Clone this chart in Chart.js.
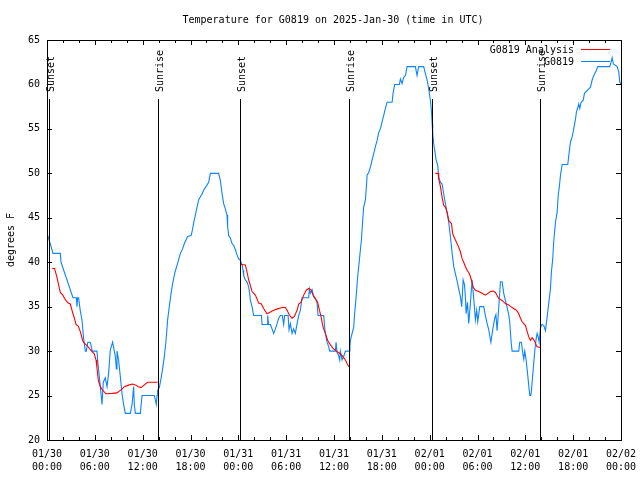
<!DOCTYPE html>
<html>
<head>
<meta charset="utf-8">
<title>Temperature for G0819</title>
<script src="https://cdn.jsdelivr.net/npm/chart.js@4.4.1/dist/chart.umd.min.js"></script>
<style>
  html, body { margin: 0; padding: 0; background: #fff; }
  #wrap { width: 640px; height: 480px; }
</style>
</head>
<body>
<div id="wrap"><canvas id="chart" width="640" height="480"></canvas></div>
<script>
// hours after 2025-01-30 00:00 UTC
const obsHours = [
  0.08, 0.16, 0.41, 0.75, 1.67, 1.76, 2.17, 2.51, 2.92, 3.26,
  3.68, 3.76, 3.84, 3.96, 4.18, 4.39, 4.59, 4.81, 4.93, 5.12,
  5.43, 5.68, 6.27, 6.35, 6.69, 6.90, 7.06, 7.31, 7.53, 7.73,
  7.94, 8.23, 8.44, 8.57, 8.70, 8.78, 8.98, 9.20, 9.41, 9.61,
  9.82, 10.45, 10.67, 10.87, 10.95, 11.08, 11.71, 11.92, 13.46, 13.59,
  13.71, 13.80, 13.88, 14.09, 14.30, 14.50, 14.72, 14.93, 15.13, 15.34,
  15.56, 15.76, 16.06, 16.39, 16.73, 17.01, 17.23, 17.64, 18.07, 18.19,
  18.39, 18.61, 18.82, 19.02, 19.45, 19.65, 20.08, 20.28, 20.49, 21.53,
  21.74, 21.96, 22.16, 22.37, 22.58, 22.66, 22.79, 23.00, 23.21, 23.41,
  23.63, 23.84, 24.04, 24.25, 24.47, 24.59, 24.67, 24.88, 25.09, 25.30,
  25.42, 25.51, 25.72, 25.92, 26.89, 26.98, 27.60, 27.68, 27.80, 28.02,
  28.23, 28.43, 28.65, 28.86, 29.06, 29.27, 29.52, 29.69, 29.81, 30.24,
  30.36, 30.53, 30.74, 30.94, 31.15, 31.37, 31.57, 31.78, 31.99, 32.82,
  32.91, 33.04, 33.25, 33.45, 33.66, 33.88, 34.00, 34.71, 34.83, 34.92,
  35.13, 35.33, 35.46, 36.17, 36.26, 36.39, 36.55, 36.71, 36.80, 37.01,
  37.21, 37.43, 37.97, 38.00, 38.06, 38.27, 38.47, 38.59, 38.81, 38.97,
  39.10, 39.31, 39.44, 39.60, 39.72, 39.94, 40.06, 40.15, 40.35, 40.57,
  40.78, 40.98, 41.19, 41.41, 41.61, 41.82, 42.03, 42.23, 42.45, 42.66,
  43.29, 43.41, 43.61, 44.20, 44.33, 44.54, 44.74, 44.96, 45.17, 46.21,
  46.42, 46.62, 47.25, 47.47, 47.68, 47.88, 48.09, 48.22, 48.31, 48.38,
  48.51, 48.63, 48.81, 49.01, 49.13, 49.35, 49.56, 49.76, 49.97, 50.19,
  50.39, 50.60, 50.82, 51.02, 51.23, 51.44, 51.64, 51.86, 52.02, 52.20,
  52.36, 52.49, 52.57, 52.74, 52.90, 53.11, 53.32, 53.49, 53.61, 53.74,
  53.90, 54.03, 54.28, 54.78, 54.99, 55.21, 55.41, 55.68, 55.87, 56.16,
  56.31, 56.46, 56.67, 56.88, 57.09, 57.29, 57.50, 57.72, 57.92, 58.04,
  58.22, 58.34, 59.17, 59.30, 59.51, 59.64, 59.80, 59.93, 60.10, 60.30,
  60.43, 60.56, 60.68, 60.77, 60.90, 61.06, 61.21, 61.36, 61.48, 61.61,
  61.73, 61.90, 62.06, 62.31, 62.52, 62.65, 62.81, 62.94, 63.15, 63.27,
  63.44, 63.56, 63.78, 63.99, 64.12, 64.28, 64.41, 64.62, 65.32, 65.45,
  65.66, 65.87, 66.07, 66.29, 66.41, 66.70, 66.83, 67.00, 67.25, 67.42,
  67.96, 68.17, 68.38, 68.58, 68.92, 69.08, 70.59, 70.76, 70.89, 71.05,
  71.52, 71.72, 71.84, 72.00
];
const obsTemps = [
  43.0, 42.8, 42.1, 41.0, 41.0, 40.0, 38.9, 38.0, 36.9, 36.0,
  36.0, 35.0, 36.0, 36.0, 34.5, 33.5, 31.4, 30.0, 30.0, 31.0,
  31.0, 30.0, 30.0, 29.0, 26.0, 24.0, 26.5, 27.0, 26.0, 27.5,
  30.1, 31.0, 30.0, 29.4, 28.0, 30.0, 29.0, 27.1, 25.2, 24.0,
  23.0, 23.0, 24.0, 26.0, 24.0, 23.0, 23.0, 25.0, 25.0, 24.5,
  24.0, 25.0, 25.6, 25.9, 26.9, 28.0, 29.4, 31.2, 33.5, 35.0,
  36.5, 37.6, 38.9, 39.9, 41.0, 41.5, 42.1, 42.9, 43.0, 43.4,
  44.4, 45.3, 46.2, 47.0, 47.7, 48.1, 48.7, 49.0, 50.0, 50.0,
  49.2, 47.7, 46.6, 46.0, 45.3, 44.0, 43.0, 42.7, 42.1, 41.9,
  41.4, 40.8, 40.4, 40.2, 39.7, 39.1, 38.5, 38.0, 37.8, 37.2,
  36.5, 35.7, 35.0, 34.0, 34.0, 33.0, 33.0, 34.0, 33.0, 33.0,
  32.5, 32.0, 32.5, 33.1, 33.7, 34.0, 34.0, 33.0, 34.0, 34.0,
  32.4, 33.1, 32.0, 32.5, 32.0, 33.1, 34.0, 34.6, 36.0, 36.0,
  37.0, 36.5, 36.9, 36.1, 35.9, 35.4, 34.0, 34.0, 32.7, 32.0,
  31.0, 30.5, 30.0, 30.0, 31.0, 29.8, 29.6, 29.0, 30.0, 29.0,
  29.4, 30.0, 30.0, 30.5, 31.2, 32.0, 32.7, 34.2, 36.5, 38.4,
  39.5, 41.4, 42.5, 44.7, 46.2, 47.0, 48.5, 49.8, 50.1, 50.7,
  51.5, 52.2, 53.0, 53.7, 54.6, 55.0, 55.8, 56.5, 57.3, 58.0,
  58.0, 59.0, 60.0, 60.0, 60.6, 60.1, 60.8, 61.0, 62.0, 62.0,
  61.0, 62.0, 62.0, 61.2, 60.5, 59.5, 58.2, 57.1, 55.6, 54.5,
  53.3, 52.6, 51.5, 50.9, 49.6, 49.0, 48.8, 47.7, 46.6, 45.5,
  44.5, 42.9, 41.0, 39.5, 38.7, 37.9, 37.0, 36.1, 35.0, 38.0,
  37.5, 36.0, 34.2, 35.5, 33.1, 35.4, 38.0, 36.3, 35.0, 33.5,
  34.6, 33.3, 35.0, 35.0, 34.0, 33.1, 32.4, 31.0, 32.2, 33.7,
  34.1, 32.3, 35.0, 37.8, 37.8, 36.5, 35.7, 34.9, 34.1, 33.3,
  31.0, 30.0, 30.0, 31.0, 31.0, 30.0, 29.1, 30.0, 29.0, 27.3,
  26.1, 25.0, 25.0, 25.6, 27.0, 28.7, 30.3, 31.4, 32.0, 31.6,
  31.0, 32.6, 33.0, 32.9, 32.3, 33.2, 34.4, 35.4, 37.0, 38.9,
  40.4, 42.3, 44.5, 45.6, 47.5, 48.6, 49.8, 51.0, 51.0, 52.0,
  53.5, 54.1, 55.0, 56.1, 56.9, 57.8, 57.3, 58.0, 58.2, 59.0,
  59.5, 59.7, 60.5, 61.0, 61.6, 62.0, 62.0, 62.5, 63.0, 62.3,
  62.0, 61.4, 60.3, 60.0
];

// analysis, night-time only (three nights)
const ana1Hours = [0.66, 0.95, 1.25, 1.42, 1.67, 1.98, 2.36, 2.67, 2.92, 3.26,
  3.43, 3.64, 3.93, 4.18, 4.47, 4.68, 5.06, 5.31, 5.60, 5.93,
  6.15, 6.27, 6.44, 6.69, 6.98, 7.38, 8.19, 8.78, 9.07, 9.36,
  9.70, 10.33, 10.74, 11.08, 11.46, 11.79, 12.21, 12.62, 13.88];
const ana1Temps = [39.3, 39.3, 38.3, 37.6, 36.6, 36.3, 35.7, 35.4, 35.3, 34.2,
  33.7, 33.0, 32.8, 32.2, 31.2, 30.9, 30.6, 30.3, 30.0, 29.7,
  29.0, 28.1, 26.7, 26.0, 25.6, 25.2, 25.25, 25.3, 25.5, 25.7,
  26.0, 26.2, 26.3, 26.2, 26.0, 25.9, 26.2, 26.5, 26.5];
const ana2Hours = [24.34, 24.88, 25.09, 25.30, 25.51, 25.72, 26.14, 26.55, 26.89, 27.18,
  27.60, 28.02, 28.43, 28.93, 29.49, 29.90, 30.11, 30.44, 30.74, 31.03,
  31.37, 31.57, 31.87, 32.20, 32.53, 32.82, 33.12, 33.38, 33.66, 33.95,
  34.17, 34.38, 34.63, 34.92, 35.21, 35.55, 35.88, 36.17, 36.46, 36.80,
  37.14, 37.43, 37.64, 37.84, 37.95];
const ana2Temps = [39.75, 39.7, 38.9, 38.0, 37.4, 36.7, 36.3, 35.4, 35.3, 34.8,
  34.2, 34.4, 34.6, 34.75, 34.9, 34.9, 34.6, 34.0, 33.7, 33.9,
  34.6, 35.3, 35.5, 36.3, 36.85, 37.05, 36.9, 36.3, 35.9, 35.5,
  34.6, 33.85, 32.7, 32.0, 31.2, 30.7, 30.3, 30.1, 29.9, 29.7,
  29.35, 29.0, 28.6, 28.3, 28.2];
const ana3Hours = [48.72, 49.06, 49.13, 49.35, 49.56, 49.76, 49.97, 50.19, 50.39, 50.73,
  50.89, 51.23, 51.64, 51.86, 52.07, 52.27, 52.49, 52.70, 52.99, 53.24,
  53.45, 53.74, 54.15, 54.58, 54.99, 55.31, 55.62, 55.96, 56.25, 56.67,
  57.09, 57.50, 57.92, 58.34, 58.88, 59.17, 59.39, 59.60, 60.01, 60.23,
  60.43, 60.64, 60.85, 61.05, 61.26, 61.48, 61.90];
const ana3Temps = [50.0, 50.0, 49.4, 48.5, 47.3, 46.4, 46.2, 45.65, 44.7, 44.35,
  43.2, 42.5, 41.7, 41.15, 40.4, 40.0, 39.5, 39.1, 38.7, 38.0,
  37.2, 36.85, 36.7, 36.5, 36.3, 36.5, 36.7, 36.75, 36.6, 35.9,
  35.7, 35.35, 35.2, 34.9, 34.6, 34.2, 33.7, 33.3, 32.9, 32.2,
  31.6, 31.2, 31.5, 31.3, 30.9, 30.5, 30.4];

const sunEvents = ['Sunset', 'Sunrise', 'Sunset', 'Sunrise', 'Sunset', 'Sunrise'];
const sunHours = [0.2, 13.87, 24.27, 37.94, 48.35, 61.89];
const dayLabels = ['01/30', '01/31', '02/01', '02/02'];

const FONT = '"DejaVu Sans Mono", "Liberation Mono", monospace';
const RED = '#ff0000';
const BLUE = '#0a84ff';

function pts(hs, vs) { return hs.map((h, i) => ({ x: h, y: vs[i] })); }

// red line is broken between nights
const anaPts = pts(ana1Hours, ana1Temps)
  .concat([{ x: 19, y: null }], pts(ana2Hours, ana2Temps))
  .concat([{ x: 43, y: null }], pts(ana3Hours, ana3Temps));

function tickLabel(v) {
  if (v % 6 !== 0) return '';
  const d = dayLabels[Math.floor(v / 24)];
  const hh = String(v % 24).padStart(2, '0');
  return [d, hh + ':00'];
}

// frame, inward ticks, sun lines, title, legend
const decor = {
  id: 'decor',
  afterDatasetsDraw(chart) {
    const { ctx, chartArea: a, scales: { x, y } } = chart;
    ctx.save();
    ctx.strokeStyle = '#000';
    ctx.lineWidth = 1;

    // sunrise / sunset markers
    ctx.fillStyle = '#000';
    ctx.font = '10px ' + FONT;
    sunHours.forEach((h, i) => {
      const px = Math.round(x.getPixelForValue(h)) + 0.5;
      ctx.beginPath();
      ctx.moveTo(px, 99);
      ctx.lineTo(px, a.bottom);
      ctx.stroke();
      ctx.save();
      ctx.translate(px + 1.5, 92);
      ctx.rotate(-Math.PI / 2);
      ctx.textAlign = 'left';
      ctx.textBaseline = 'middle';
      ctx.fillText(sunEvents[i], 0, 0);
      ctx.restore();
    });

    // border
    ctx.strokeRect(Math.round(a.left) + 0.5, Math.round(a.top) + 0.5,
      Math.round(a.right - a.left), Math.round(a.bottom - a.top));

    // ticks pointing in
    ctx.beginPath();
    x.ticks.forEach(t => {
      const px = Math.round(x.getPixelForValue(t.value)) + 0.5;
      const len = t.value % 6 === 0 ? 5 : 3;
      ctx.moveTo(px, a.bottom); ctx.lineTo(px, a.bottom - len);
      ctx.moveTo(px, a.top); ctx.lineTo(px, a.top + len);
    });
    y.ticks.forEach(t => {
      const py = Math.round(y.getPixelForValue(t.value)) + 0.5;
      ctx.moveTo(a.left, py); ctx.lineTo(a.left + 5, py);
      ctx.moveTo(a.right, py); ctx.lineTo(a.right - 5, py);
    });
    ctx.stroke();

    // title
    ctx.textAlign = 'center';
    ctx.textBaseline = 'middle';
    ctx.fillText('Temperature for G0819 on 2025-Jan-30 (time in UTC)', 333, 20);

    // legend
    ctx.textAlign = 'right';
    ctx.fillText('G0819 Analysis', 574, 50);
    ctx.fillText('G0819', 574, 62);
    ctx.lineWidth = 1;
    ctx.strokeStyle = RED;
    ctx.beginPath(); ctx.moveTo(581, 49.5); ctx.lineTo(610, 49.5); ctx.stroke();
    ctx.strokeStyle = BLUE;
    ctx.beginPath(); ctx.moveTo(581, 61.5); ctx.lineTo(610, 61.5); ctx.stroke();
    ctx.restore();
  }
};

new Chart(document.getElementById('chart'), {
  type: 'line',
  data: {
    datasets: [
      { label: 'G0819 Analysis', data: anaPts, borderColor: RED, borderWidth: 1.1,
        pointRadius: 0, spanGaps: false, tension: 0 },
      { label: 'G0819', data: pts(obsHours, obsTemps), borderColor: BLUE, borderWidth: 1.1,
        pointRadius: 0, tension: 0 }
    ]
  },
  options: {
    responsive: false,
    animation: false,
    events: [],
    layout: { padding: { left: 0, top: 40, right: 19, bottom: 0 } },
    plugins: { legend: { display: false }, tooltip: { enabled: false }, title: { display: false } },
    scales: {
      x: {
        type: 'linear', min: 0, max: 72,
        afterFit: s => { s.height = 40; s.paddingLeft = 0; s.paddingRight = 0; },
        grid: { display: false, drawTicks: false },
        border: { display: false },
        ticks: {
          stepSize: 2, autoSkip: false, maxRotation: 0, padding: 8,
          color: '#000', font: { family: FONT, size: 10, lineHeight: 1.27 },
          callback: tickLabel
        }
      },
      y: {
        min: 20, max: 65,
        afterFit: s => { s.width = 47; s.paddingTop = 0; s.paddingBottom = 0; },
        grid: { display: false, drawTicks: false },
        border: { display: false },
        ticks: { stepSize: 5, padding: 7, color: '#000', font: { family: FONT, size: 10 } },
        title: { display: true, text: 'degrees F', color: '#000', padding: { top: 5, bottom: 0 },
          font: { family: FONT, size: 10 } }
      }
    }
  },
  plugins: [decor]
});
</script>
</body>
</html>
